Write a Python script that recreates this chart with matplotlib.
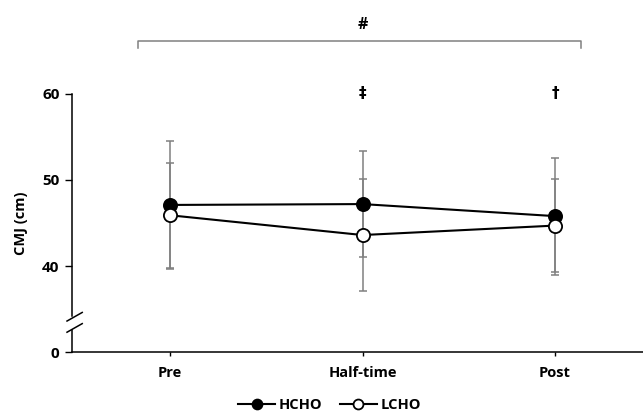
import matplotlib
matplotlib.use("Agg")
import matplotlib.pyplot as plt

# data
timepoints = ["Pre", "Half-time", "Post"]
hcho_mean = [47.1, 47.2, 45.8]
hcho_sd = [7.4, 6.2, 6.8]
lcho_mean = [45.9, 43.6, 44.7]
lcho_sd = [6.1, 6.5, 5.4]
y_ticks = [30, 40, 50, 60]
y_ticklabels = ["0", "40", "50", "60"]
sig_marks = ["", "\u2021", "\u2020"]

plt.rcParams["font.family"] = ["Open Sans", "DejaVu Sans"]
plt.rcParams["font.weight"] = "bold"

fig = plt.figure(figsize=(6.43, 4.15), dpi=100)
ax = fig.add_axes([0.112, 0.1518, 0.888, 0.6217])

x = list(range(len(timepoints)))

# error bars first (grey), then the lines on top
ax.errorbar(x, hcho_mean, yerr=hcho_sd, fmt="none", ecolor="#808080",
            elinewidth=1.1, capsize=3, capthick=1.1, zorder=1)
ax.errorbar(x, lcho_mean, yerr=lcho_sd, fmt="none", ecolor="#808080",
            elinewidth=1.1, capsize=3, capthick=1.1, zorder=1)
ax.plot(x, hcho_mean, color="black", lw=1.5, marker="o", ms=9.5,
        mfc="black", mec="black", mew=1.3, label="HCHO", zorder=3)
ax.plot(x, lcho_mean, color="black", lw=1.5, marker="o", ms=9.5,
        mfc="white", mec="black", mew=1.3, label="LCHO", zorder=3)

ax.set_xlim(-0.509, 2.457)
ax.set_ylim(30, 60)
ax.set_xticks(x)
ax.set_xticklabels(timepoints, fontsize=10.5)
ax.set_yticks(y_ticks)
ax.set_yticklabels(y_ticklabels, fontsize=11)
ax.tick_params(axis="x", length=3, width=1, pad=7)
ax.tick_params(axis="y", length=5, width=1, pad=4)
ax.spines["top"].set_visible(False)
ax.spines["right"].set_visible(False)
for s in ["left", "bottom"]:
    ax.spines[s].set_linewidth(1.1)

ax.set_ylabel("CMJ (cm)", fontsize=10.5, fontweight="bold")
ax.yaxis.set_label_coords(-0.077, 0.5)

# axis break on the y axis
ax.plot([-0.535, -0.456], [33.6, 34.6], color="black", lw=1.1, clip_on=False, zorder=4)
ax.plot([-0.535, -0.456], [32.3, 33.3], color="black", lw=1.1, clip_on=False, zorder=4)
ax.plot([-0.509, -0.509], [32.95, 33.95], color="white", lw=2.5, clip_on=False, zorder=3)

# significance marks
for xi, m in zip(x, sig_marks):
    if m:
        ax.text(xi, 60.1, m, ha="center", va="center", fontsize=11,
                fontweight="bold", family=["DejaVu Sans"], clip_on=False)

ax.plot([-0.166, -0.166, 2.135, 2.135], [65.4, 66.2, 66.2, 65.4],
        color="#808080", lw=1.1, clip_on=False)
ax.text(1.0, 68.0, "#", ha="center", va="center", fontsize=11.5,
        fontweight="bold", clip_on=False)

fig.legend(loc="center", bbox_to_anchor=(0.512, 0.024), ncol=2, frameon=False,
           fontsize=10.5, handlelength=2.6, handletextpad=0.2, columnspacing=1.2,
           markerscale=0.75)

fig.savefig("out.png", dpi=100)
